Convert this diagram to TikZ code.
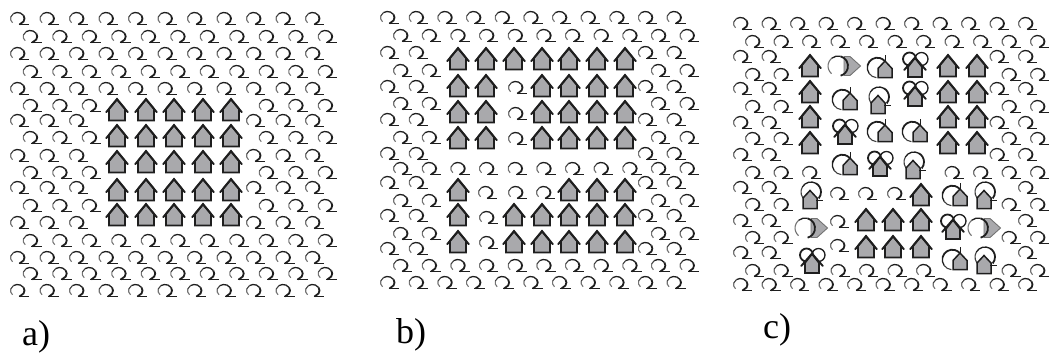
\documentclass[tikz,border=0pt]{standalone}
\usepackage{fontspec}
\setmainfont{Liberation Serif}
\definecolor{hfill}{HTML}{A9A9AC}
\definecolor{ink}{HTML}{1E1E1E}
\tikzset{
  x=1pt,y=1pt,
  lab/.style={inner sep=0pt,anchor=base west,font=\fontsize{36}{40}\selectfont},
  hs/.style={draw=ink,line width=1.8pt,fill=hfill,line join=miter},
  eave/.style={draw=ink,line width=1.9pt,line cap=round,line join=miter},
  arcA/.style={draw=black!55,line width=1.1pt},
  arcB/.style={draw=black!75,line width=1.1pt},
  arcC/.style={draw=ink,line width=1.3pt},
  arcD/.style={draw=ink,line width=1.8pt},
  omg/.pic={
    \draw[arcA] (-2.5,-.5)+(225:7 and 6) arc[start angle=225,end angle=165,x radius=7,y radius=6];
    \draw[arcB] (-2.5,-.5)+(165:7 and 6) arc[start angle=165,end angle=125,x radius=7,y radius=6];
    \draw[arcC] (-2.5,-.5)+(125:7 and 6) arc[start angle=125,end angle=30,x radius=7,y radius=6];
    \draw[arcD] (-2.5,-.5)+(30:7 and 6) arc[start angle=30,end angle=-68,x radius=7,y radius=6] -- (-.5,-6.5);
    \draw[arcD] (-1.5,-6.5) -- (9.3,-6.5);
  },
  hse/.pic={
    \path[hs] (-8,-10.5) -- (-8,1) -- (0,10.5) -- (8,1) -- (8,-10.5) -- cycle;
    \path[eave] (-10.8,-2.2) -- (0,11) -- (10.8,-2.2);
  },
  archse/.pic={
    \draw[arcB] (-2.7,2.3)+(265:10) arc[start angle=265,end angle=215,radius=10];
    \draw[arcC] (-2.7,2.3)+(215:10) arc[start angle=215,end angle=165,radius=10];
    \draw[arcD] (-2.7,2.3)+(165:10) arc[start angle=165,end angle=40,radius=10];
    \path[draw=ink,line width=1.5pt,fill=hfill] (-2,-7.5) -- (-2,1.5) -- (5,9) -- (12,1.5) -- (12,-7.5) -- cycle;
    \draw[arcC] (5.5,15) -- (5.5,8);
  },
  loophse/.pic={
    \draw[arcB] (1,5)+(235:10) arc[start angle=235,end angle=150,radius=10];
    \draw[arcC] (1,5)+(150:10) arc[start angle=150,end angle=60,radius=10];
    \draw[arcD] (1,5)+(60:10) arc[start angle=60,end angle=-40,radius=10];
    \path[draw=ink,line width=1.5pt,fill=hfill] (-7,-11.5) -- (-7,-1) -- (0,6.5) -- (7,-1) -- (7,-11.5) -- cycle;
    \draw[arcC] (6,-3.5) -- (13,-3.5);
  },
  dblhse/.pic={
    \draw[arcD] (-5.5,7) circle[radius=6.5];
    \draw[arcC] (6.5,7) circle[radius=6.5];
    \path[draw=ink,line width=1.6pt,fill=hfill] (-7,-11) -- (-7,-1) -- (0,8) -- (7,-1) -- (7,-11) -- cycle;
    \path[eave] (-10.8,-4) -- (0,8.5) -- (10.8,-4);
  },
  rthse/.pic={
    \path[draw=black!55,line width=.9pt,fill=hfill] (-1,-9.5) -- (5,-9.5) -- (15.5,0) -- (5,9.5) -- (-1,9.5) -- cycle;
    \draw[arcA] (-7,0)+(230:10) arc[start angle=230,end angle=130,radius=10];
    \draw[arcC] (-7,0)+(130:10) arc[start angle=130,end angle=75,radius=10];
    \draw[arcD] (-7,0)+(75:10) arc[start angle=75,end angle=-75,radius=10];
  }
}
% #1 y, #2 first x, #3 spacing, #4 indices
\newcommand\omrow[4]{\foreach \i in {#4} {\pic at ({#2+\i*#3},{-#1}) {omg};}}
\newcommand\elems[2]{\foreach \ex/\ey in {#2} {\pic at (\ex,{-\ey}) {#1};}}
\begin{document}
\begin{tikzpicture}
\useasboundingbox (0,-354) rectangle (1050,0);
% ===== panel a
\def\ax{20}\def\bx{32.7}\def\dd{29.5}
\foreach \yy in {18,53,88,290,257}{\omrow{\yy}{\ax}{\dd}{0,...,10}}
\foreach \yy in {36,71,240,273}{\omrow{\yy}{\bx}{\dd}{0,...,10}}
\foreach \yy in {120,155,187,222}{\omrow{\yy}{\ax}{\dd}{0,1,2,8,9,10}}
\foreach \yy in {105,137,172,205}{\omrow{\yy}{\bx}{\dd}{0,1,2,8,9,10}}
\foreach \hy in {110,136,162,190,215}{
  \foreach \hx in {117,146,174,203,231}{\pic at (\hx,{-\hy}) {hse};}}
\node[lab] (la) at (22,-345) {a)};
% ===== panel b
\def\ax{390}\def\bx{403}\def\dd{28.65}
\foreach \yy in {17,282}{\omrow{\yy}{\ax}{\dd}{0,...,10}}
\foreach \yy in {35,168,265}{\omrow{\yy}{\bx}{\dd}{0,...,10}}
\foreach \yy in {52,86,119,153,182,215,248}{\omrow{\yy}{\ax}{\dd}{0,1,9,10}}
\foreach \yy in {70,103,137,200,233}{\omrow{\yy}{\bx}{\dd}{0,1,9,10}}
\elems{hse}{458/59,486/59,514/59,542/59,569/59,597/59,625/59,
  458/86,486/86,542/86,569/86,597/86,625/86,
  458/112,486/112,542/112,569/112,597/112,625/112,
  458/138,486/138,542/138,569/138,597/138,625/138,
  458/190,569/190,597/190,625/190,
  458/215,514/215,542/215,569/215,597/215,625/215,
  458/242,514/242,542/242,569/242,597/242,625/242}
\elems{omg}{518/87,518/113,518/138,488/192,518/192,546/192,489/217,489/242}
\node[lab] (lb) at (396,-343) {b)};
% ===== panel c
\def\ax{743}\def\bx{755}\def\dd{28.5}
\foreach \yy in {23,284}{\omrow{\yy}{\ax}{\dd}{0,...,10}}
\omrow{41}{\bx}{\dd}{0,...,10}
\foreach \yy in {56,88,122,154}{\omrow{\yy}{\ax}{\dd}{0,1,9,10}}
\foreach \yy in {74,106,138,204,237}{\omrow{\yy}{\bx}{\dd}{0,1,9,10}}
\omrow{172}{\bx}{\dd}{0,1,2,7,8,9,10}
\omrow{187}{\ax}{\dd}{0,1,10}
\omrow{220}{\ax}{\dd}{0,1,10}
\omrow{252}{\ax}{\dd}{0,1,10}
\omrow{270}{\bx}{\dd}{0,1,3,4,5,6,9,10}
\elems{omg}{840/193,868/193,897/193,840/221,840/245}
\elems{hse}{810/66,948/66,977/66,810/92,948/92,977/92,810/117,948/117,977/117,
  810/143,948/143,977/143,921/195,866/220,893/220,921/220,866/247,893/247,921/247}
\elems{rthse}{845/66,812/228,985/228}
\elems{archse}{880/70,845/102,880/134,915/134,845/167,955/198,955/262}
\elems{loophse}{878/102,913/167,810/197,984/197,984/262}
\elems{dblhse}{915/66,915/95,845/133,880/165,953/228,812/262}
\node[lab] (lc) at (763,-338) {c)};
\end{tikzpicture}
\end{document}
